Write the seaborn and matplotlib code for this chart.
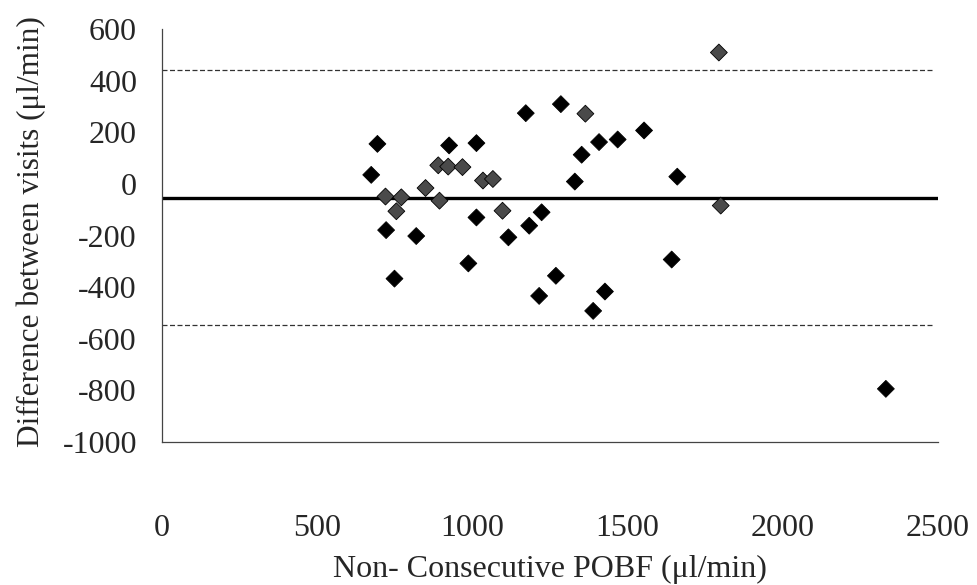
import matplotlib
matplotlib.use("Agg")
import matplotlib.pyplot as plt
import seaborn as sns
import pandas as pd

# Data
pobf = [674, 694, 720, 722, 749, 755, 771, 819, 849, 890,
        894, 922, 925, 968, 987, 1013, 1013, 1034, 1066, 1097,
        1116, 1172, 1183, 1215, 1223, 1269, 1285, 1330, 1352, 1364,
        1389, 1408, 1427, 1468, 1553, 1642, 1660, 1794, 1800, 2332]
diff = [35, 155, -49, -179, -367, -106, -52, -202, -16, 72,
        -65, 67, 149, 65, -308, 158, -130, 13, 19, -104,
        -207, 274, -162, -434, -110, -356, 309, 9, 113, 272,
        -492, 162, -417, 172, 207, -293, 28, 509, -84, -794]
shade = ["dark", "dark", "grey", "dark", "dark", "grey", "grey", "dark", "grey", "grey",
         "grey", "grey", "dark", "grey", "dark", "dark", "dark", "grey", "grey", "grey",
         "dark", "dark", "dark", "dark", "dark", "dark", "dark", "dark", "dark", "grey",
         "dark", "dark", "dark", "dark", "dark", "dark", "dark", "grey", "grey", "dark"]
mean_diff = -54
upper_loa = 440
lower_loa = -546
x_ticks = [0, 500, 1000, 1500, 2000, 2500]
y_ticks = [600, 400, 200, 0, -200, -400, -600, -800, -1000]

df = pd.DataFrame({"pobf": pobf, "diff": diff, "shade": shade})

sns.set_style("white")
plt.rcParams["font.family"] = ["Liberation Serif", "DejaVu Serif"]

fig = plt.figure(figsize=(9.77, 5.85), dpi=100)
ax = fig.add_axes([0.1658, 0.2444, 0.7943, 0.7060])

# reference lines
ax.plot([0, 2500], [mean_diff, mean_diff], color="black", lw=2.4, zorder=1)
ax.plot([0, 2480], [upper_loa, upper_loa], color="#333333", lw=0.9,
        ls=(0, (4, 2)), zorder=1)
ax.plot([0, 2480], [lower_loa, lower_loa], color="#333333", lw=0.9,
        ls=(0, (4, 2)), zorder=1)

sns.scatterplot(data=df, x="pobf", y="diff", hue="shade",
                palette={"dark": "black", "grey": "#4a4a4a"},
                marker="D", s=74, edgecolor="black", linewidth=0.6,
                legend=False, ax=ax, zorder=3)

ax.set_xlim(0, 2500)
ax.set_ylim(-1000, 600)
ax.set_xticks(x_ticks)
ax.set_yticks(y_ticks)
ax.set_xticklabels([str(t) for t in x_ticks])
ax.set_yticklabels([str(t) for t in y_ticks])

for side in ["top", "right"]:
    ax.spines[side].set_visible(False)
for side in ["left", "bottom"]:
    ax.spines[side].set_color("#444444")
    ax.spines[side].set_linewidth(0.9)

ax.tick_params(axis="x", direction="out", length=6.5, width=0.8,
               color="#444444", pad=45, labelsize=23)
ax.tick_params(axis="y", direction="out", length=4, width=0.8,
               color="#444444", pad=14, labelsize=23)

ax.set_xlabel("Non- Consecutive POBF (μl/min)", fontsize=23, labelpad=9)
ax.set_ylabel("Difference between visits (μl/min)", fontsize=22.5)
ax.yaxis.set_label_coords(-0.150, 0.51)

fig.savefig("out.png", dpi=100)
